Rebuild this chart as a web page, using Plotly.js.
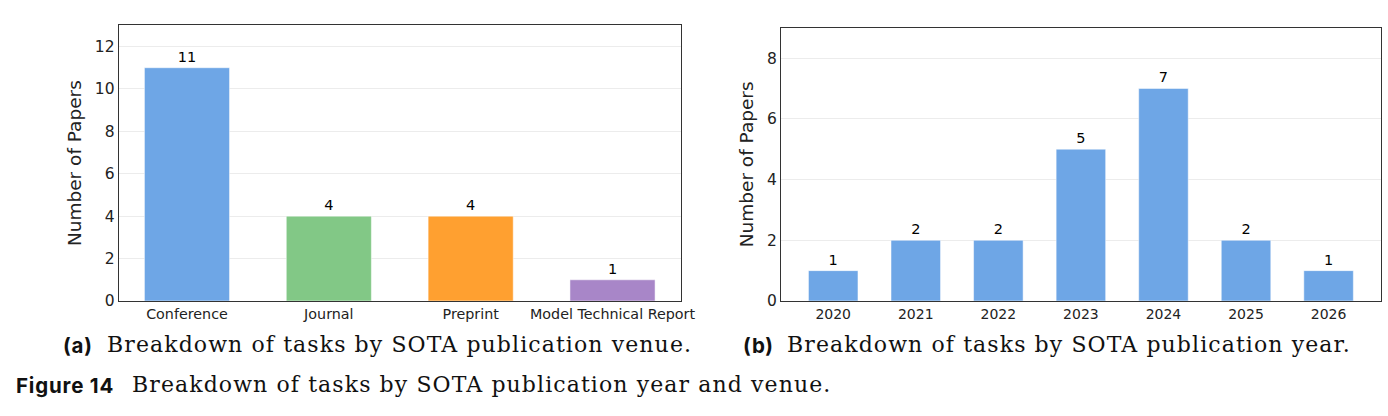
<!DOCTYPE html>
<html>
<head>
<meta charset="utf-8">
<script src="https://cdn.plot.ly/plotly-3.0.1.min.js"></script>
<style>
html,body{margin:0;padding:0;background:#fff;}
#chart{width:1388px;height:416px;}
</style>
</head>
<body>
<div id="chart"></div>
<script>
// Data
const venueCategories = ["Conference", "Journal", "Preprint", "Model Technical Report"];
const venueCounts = [11, 4, 4, 1];
const venueColors = ["#6ea6e6", "#82c886", "#ffa030", "#a886c8"];

const yearCategories = ["2020", "2021", "2022", "2023", "2024", "2025", "2026"];
const yearCounts = [1, 2, 2, 5, 7, 2, 1];
const yearColor = "#6ea6e6";

const captionA = "Breakdown of tasks by SOTA publication venue.";
const captionB = "Breakdown of tasks by SOTA publication year.";
const figureCaption = "Breakdown of tasks by SOTA publication year and venue.";

const W = 1388, H = 416;
const px = v => v / W;
const py = v => (H - v) / H;

const traces = [
  {
    type: "bar", x: venueCategories.map((_, i) => i), y: venueCounts,
    width: 0.6, xaxis: "x", yaxis: "y",
    marker: {color: venueColors, line: {color: "rgba(255,255,255,0.5)", width: 1}},
    text: venueCounts.map(String), textposition: "outside", cliponaxis: false,
    textfont: {family: "DejaVu Sans", size: 14.5, color: "#000"},
    hoverinfo: "none"
  },
  {
    type: "bar", x: yearCategories.map((_, i) => i), y: yearCounts,
    width: 0.6, xaxis: "x2", yaxis: "y2",
    marker: {color: yearColor, line: {color: "rgba(255,255,255,0.5)", width: 1}},
    text: yearCounts.map(String), textposition: "outside", cliponaxis: false,
    textfont: {family: "DejaVu Sans", size: 14.5, color: "#000"},
    hoverinfo: "none"
  }
];

const axisCommon = {
  showline: true, mirror: true, linecolor: "#333", linewidth: 1.2,
  ticks: "", zeroline: false
};

const capFont = {family: "DejaVu Serif", size: 22, color: "#111"};
const boldFont = {family: "Inter", size: 20.5, color: "#111"};
const sp = t => '<span style="letter-spacing:1.1px">' + t + '</span>';
const bsp = t => '<span style="letter-spacing:0.8px"><b>' + t + '</b></span>';

const layout = {
  width: W, height: H,
  margin: {l: 0, r: 0, t: 0, b: 0},
  paper_bgcolor: "#fff", plot_bgcolor: "#fff",
  showlegend: false,
  font: {family: "DejaVu Sans", color: "#222"},
  xaxis: Object.assign({}, axisCommon, {
    domain: [px(118.9), px(680.6)], anchor: "y",
    range: [-0.48, venueCategories.length - 1 + 0.48],
    tickmode: "array", tickvals: venueCategories.map((_, i) => i), ticktext: venueCategories,
    showgrid: false, tickfont: {size: 14.3, color: "#222"}
  }),
  yaxis: Object.assign({}, axisCommon, {
    domain: [py(301), py(25.3)], anchor: "x",
    range: [0, 13], dtick: 2, tick0: 0,
    showgrid: true, gridcolor: "#ececec", gridwidth: 1,
    tickfont: {size: 15.5, color: "#222"},
    title: {text: "Number of Papers", font: {size: 18.5, color: "#222"}, standoff: 8}
  }),
  xaxis2: Object.assign({}, axisCommon, {
    domain: [px(781.2), px(1380.6)], anchor: "y2",
    range: [-0.63, yearCategories.length - 1 + 0.63],
    tickmode: "array", tickvals: yearCategories.map((_, i) => i), ticktext: yearCategories,
    showgrid: false, tickfont: {size: 14, color: "#222"}
  }),
  yaxis2: Object.assign({}, axisCommon, {
    domain: [py(301), py(27.7)], anchor: "x2",
    range: [0, 9], dtick: 2, tick0: 0,
    showgrid: true, gridcolor: "#ececec", gridwidth: 1,
    tickfont: {size: 15.5, color: "#222"},
    title: {text: "Number of Papers", font: {size: 18.5, color: "#222"}, standoff: 8}
  }),
  annotations: [
    {xref: "paper", yref: "paper", x: px(61), y: py(345), xanchor: "left", yanchor: "middle",
     showarrow: false, text: bsp("(a)"), font: boldFont},
    {xref: "paper", yref: "paper", x: px(105), y: py(344), xanchor: "left", yanchor: "middle",
     showarrow: false, text: sp(captionA), font: capFont},
    {xref: "paper", yref: "paper", x: px(741), y: py(345), xanchor: "left", yanchor: "middle",
     showarrow: false, text: bsp("(b)"), font: boldFont},
    {xref: "paper", yref: "paper", x: px(785), y: py(344), xanchor: "left", yanchor: "middle",
     showarrow: false, text: sp(captionB), font: capFont},
    {xref: "paper", yref: "paper", x: px(14), y: py(385), xanchor: "left", yanchor: "middle",
     showarrow: false, text: bsp("Figure 14"), font: boldFont},
    {xref: "paper", yref: "paper", x: px(130), y: py(384), xanchor: "left", yanchor: "middle",
     showarrow: false, text: sp(figureCaption), font: capFont}
  ]
};

Plotly.newPlot("chart", traces, layout, {displayModeBar: false, staticPlot: true});
</script>
</body>
</html>
